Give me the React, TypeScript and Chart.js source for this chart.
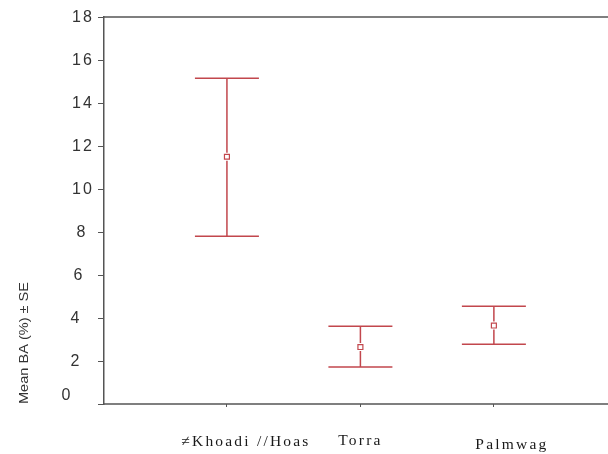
import React, { useEffect, useRef } from "react";
import { Chart, registerables } from "chart.js";

Chart.register(...registerables);

const categories = ["≠Khoadi //Hoas", "Torra", "Palmwag"];
const means = [11.5, 2.65, 3.65];
const upper = [15.15, 3.62, 4.55];
const lower = [7.8, 1.72, 2.78];
const yTicks = [0, 2, 4, 6, 8, 10, 12, 14, 16, 18];
const yTitle = "Mean BA (%) ± SE";

const RED = "#c2474d";
const AXIS = "#555";

export default function App() {
  const ref = useRef<HTMLCanvasElement>(null);
  useEffect(() => {
    const canvas = ref.current!;
    const xs = categories.map((_, i) => i + 1);
    const labelDx = [19, 0, 18];
    const labelDy = [0, -1, 3];
    // horizontal centres of the y tick labels (scan is slightly skewed)
    const tickCx = [66, 75, 75, 78, 81, 82, 82, 82, 82, 82];
    const tickDy = [-8, 1, 1, 1, 1, 1, 1, 1, 1, 1];

    const plugin = {
      id: "custom",
      afterDatasetsDraw(chart: any) {
        const ctx = chart.ctx;
        const xS = chart.scales.x;
        const yS = chart.scales.y;
        const area = chart.chartArea;
        const W = chart.width;
        ctx.save();
        ctx.strokeStyle = AXIS;
        ctx.lineWidth = 1.5;
        ctx.beginPath();
        ctx.moveTo(area.left, area.top);
        ctx.lineTo(W, area.top);
        ctx.moveTo(area.left, area.bottom);
        ctx.lineTo(W, area.bottom);
        ctx.stroke();
        ctx.strokeStyle = RED;
        ctx.lineWidth = 1.5;
        xs.forEach((xv, i) => {
          const px = xS.getPixelForValue(xv);
          const pt = yS.getPixelForValue(upper[i]);
          const pb = yS.getPixelForValue(lower[i]);
          const pm = yS.getPixelForValue(means[i]);
          ctx.beginPath();
          ctx.moveTo(px, pt);
          ctx.lineTo(px, pm - 4);
          ctx.moveTo(px, pm + 4);
          ctx.lineTo(px, pb);
          ctx.moveTo(px - 32, pt);
          ctx.lineTo(px + 32, pt);
          ctx.moveTo(px - 32, pb);
          ctx.lineTo(px + 32, pb);
          ctx.stroke();
        });
        ctx.fillStyle = "#333";
        ctx.font = "16px 'Liberation Sans', Arial";
        try { (ctx as any).letterSpacing = "2px"; } catch (e) {}
        ctx.textAlign = "center";
        ctx.textBaseline = "middle";
        yTicks.forEach((v, i) => {
          const py = yS.getPixelForValue(v);
          ctx.fillText(String(v), tickCx[i] + 1, py + tickDy[i]);
        });
        ctx.fillStyle = "#1a1a1a";
        ctx.font = "15.5px 'Liberation Serif'";
        try { (ctx as any).letterSpacing = "2.2px"; } catch (e) {}
        categories.forEach((c, i) => {
          const px = xS.getPixelForValue(xs[i]);
          ctx.fillText(c, px + labelDx[i], 442 + labelDy[i]);
        });
        try { (ctx as any).letterSpacing = "0px"; } catch (e) {}
        ctx.translate(24, 343);
        ctx.rotate(-Math.PI / 2);
        ctx.font = "13px 'Liberation Sans', Arial";
        const w = ctx.measureText(yTitle).width;
        ctx.scale(122 / w, 1);
        ctx.fillStyle = "#333";
        ctx.fillText(yTitle, 0, 0);
        ctx.restore();
      },
    };

    const chart = new Chart(canvas, {
      type: "scatter",
      data: {
        datasets: [
          {
            data: xs.map((x, i) => ({ x, y: means[i] })),
            pointStyle: "rect",
            pointRadius: 3.5,
            borderColor: RED,
            backgroundColor: "#fff",
            borderWidth: 1.2,
          },
        ],
      },
      options: {
        animation: false,
        responsive: false,
        layout: { padding: { top: 17, right: 0, left: 0, bottom: 0 } },
        plugins: { legend: { display: false }, tooltip: { enabled: false } },
        scales: {
          x: {
            type: "linear",
            min: 0.079,
            max: 3.816,
            afterBuildTicks: (s: any) => {
              s.ticks = xs.map((v) => ({ value: v }));
            },
            afterFit: (s: any) => {
              s.height = 50;
            },
            ticks: { display: false },
            grid: { drawOnChartArea: false, tickLength: 3, color: AXIS },
            border: { display: false },
          },
          y: {
            min: 0,
            max: 18,
            afterBuildTicks: (s: any) => {
              s.ticks = yTicks.map((v) => ({ value: v }));
            },
            afterFit: (s: any) => {
              s.width = 104;
            },
            ticks: { display: false },
            grid: { drawOnChartArea: false, tickLength: 6, color: AXIS },
            border: { color: AXIS, width: 1.5 },
          },
        },
      },
      plugins: [plugin],
    });
    return () => chart.destroy();
  }, []);
  return (
    <div style={{ position: "fixed", left: 0, top: 0, width: 608, height: 454, background: "#fff" }}>
      <canvas ref={ref} width={608} height={454} />
    </div>
  );
}
